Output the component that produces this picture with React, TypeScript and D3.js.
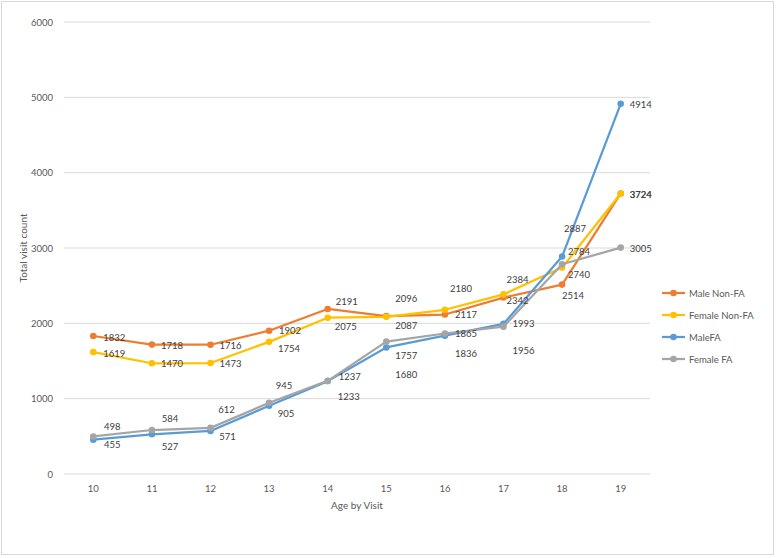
import React from "react";
import * as d3 from "d3";

const ages = ["10", "11", "12", "13", "14", "15", "16", "17", "18", "19"];
const maleNonFA = [1832, 1718, 1716, 1902, 2191, 2096, 2117, 2342, 2514, 3724];
const femaleNonFA = [1619, 1470, 1473, 1754, 2075, 2087, 2180, 2384, 2740, 3724];
const maleFA = [455, 527, 571, 905, 1233, 1680, 1836, 1993, 2887, 4914];
const femaleFA = [498, 584, 612, 945, 1237, 1757, 1865, 1956, 2784, 3005];
const seriesNames = ["Male Non-FA", "Female Non-FA", "MaleFA", "Female FA"];
const yTicks = [0, 1000, 2000, 3000, 4000, 5000, 6000];

// label offsets (center dx, dy) relative to each point
const offMaleNonFA = [[21, 2], [20, 1], [20, 1], [21, 0], [19, -7], [20, -18], [21, 0], [14, 3], [11, 11], [20, 1]];
const offFemaleNonFA = [[21, 1], [20, 0], [20, 0], [20, 7], [18, 9], [20, 9], [16, -21], [14, -15], [17, 7], [20, 1]];
const offMaleFA = [[19, 5], [18, 12], [17, 6], [17, 8], [21, 15], [20, 27], [21, 18], [20, 0], [13, -28], [20, 1]];
const offFemaleFA = [[19, -10], [18, -12], [16, -18], [15, -17], [22, -4], [20, 14], [21, 0], [20, 24], [17, -13], [20, 1]];

const colors = ["#ED7D31", "#FFC000", "#5B9BD5", "#A5A5A5"];
const FONT = "Lato, 'Open Sans', sans-serif";

export default function App() {
  const W = 777, H = 558;
  const x = d3.scaleBand<string>().domain(ages).range([64, 650]);
  const y = d3.scaleLinear().domain([0, 6000]).range([474, 22]);
  const cx = (a: string) => (x(a) as number) + x.bandwidth() / 2;
  const line = d3.line<number>().x((_, i) => cx(ages[i])).y((v) => y(v));
  const all = [maleNonFA, femaleNonFA, maleFA, femaleFA];
  const offs = [offMaleNonFA, offFemaleNonFA, offMaleFA, offFemaleFA];
  const legendY = [293, 315, 337, 359];

  return (
    <svg width={W} height={H} style={{ position: "absolute", left: 0, top: 0, background: "#fff" }} fontFamily={FONT}>
      <rect x={1.5} y={1.5} width={772} height={553} fill="#fff" stroke="#D9D9D9" />
      {yTicks.map((t) => (
        <g key={t}>
          <line x1={64} x2={650} y1={y(t)} y2={y(t)} stroke="#D9D9D9" strokeWidth={1} />
          <text x={53} y={y(t)} textAnchor="end" dominantBaseline="central" fontSize={9.5} fill="#595959">{t}</text>
        </g>
      ))}
      {ages.map((a) => (
        <text key={a} x={cx(a)} y={488} textAnchor="middle" dominantBaseline="central" fontSize={9.5} fill="#595959">{a}</text>
      ))}
      <text x={357} y={505} textAnchor="middle" dominantBaseline="central" fontSize={10} fill="#595959">Age by Visit</text>
      <text transform={`translate(23,${248}) rotate(-90)`} textAnchor="middle" dominantBaseline="central" fontSize={10} fill="#595959">Total visit count</text>
      {all.map((s, si) => (
        <g key={si}>
          <path d={line(s) as string} fill="none" stroke={colors[si]} strokeWidth={2.25} strokeLinejoin="round" />
          {s.map((v, i) => (
            <circle key={i} cx={cx(ages[i])} cy={y(v)} r={3.3} fill={colors[si]} />
          ))}
        </g>
      ))}
      {all.map((s, si) => (
        <g key={"l" + si}>
          {s.map((v, i) => (
            <text key={i} x={cx(ages[i]) + offs[si][i][0]} y={y(v) + offs[si][i][1]} textAnchor="middle" dominantBaseline="central" fontSize={9.5} fill="#404040">{v}</text>
          ))}
        </g>
      ))}
      {seriesNames.map((n, i) => (
        <g key={n}>
          <line x1={662} x2={685} y1={legendY[i]} y2={legendY[i]} stroke={colors[i]} strokeWidth={2.25} />
          <circle cx={673.5} cy={legendY[i]} r={3.3} fill={colors[i]} />
          <text x={689} y={legendY[i]} dominantBaseline="central" fontSize={9.5} fill="#595959">{n}</text>
        </g>
      ))}
    </svg>
  );
}
